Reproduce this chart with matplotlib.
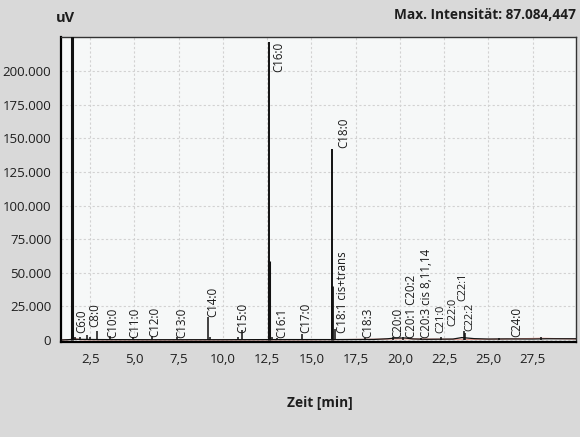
import matplotlib.pyplot as plt
from matplotlib.ticker import FuncFormatter

plt.rcParams["font.family"] = ["Open Sans", "DejaVu Sans"]

# peak retention times [min] and heights [uV]
peak_rt = [1.45, 1.65, 1.93, 2.33, 2.50, 2.90, 3.63, 4.93, 6.00, 7.40,
           9.16, 9.27, 10.85, 11.07, 12.62, 12.60, 12.77, 13.05, 14.45,
           16.17, 16.14, 16.33, 18.0, 19.6, 20.2, 21.2, 22.3, 23.62, 23.70,
           25.6, 27.99]
peak_h = [240000, 2500, 2500, 3500, 2000, 6500, 3000, 2500, 3000, 2000,
          17000, 2000, 2500, 7500, 221800, 59000, 2500, 1500, 4500,
          142500, 40000, 8000, 1500, 2000, 2000, 1500, 2000, 7000, 5000,
          1200, 2000]
peak_lw = [2.2] + [1.1] * 13 + [1.4, 2.2] + [1.1] * 3 + [1.4, 2.0] + [1.1] * 10

# baseline of the trace
base_t = [0.85, 1.7, 3.0, 6.0, 10.0, 13.0, 16.5, 18.5, 19.3, 19.7, 20.3,
          20.7, 21.5, 23.0, 23.5, 24.2, 25.0, 26.0, 27.5, 28.3, 29.95]
base_v = [0, 500, 300, 200, 200, 300, 300, 400, 900, 1400, 1500,
          800, 500, 700, 1800, 1000, 700, 800, 700, 900, 900]

# blank run (red)
red_t = [0.85, 1.3, 1.6, 2.0, 5.0, 10.0, 15.0, 19.5, 20.5, 24.0, 26.0, 28.0, 29.95]
red_v = [0, 200, 1200, 100, 0, 0, 100, 700, 800, 400, 700, 1300, 700]

# peak labels: text, x [min], bottom of text [uV]
lab_text = ["C6:0", "C8:0", "C10:0", "C11:0", "C12:0", "C13:0", "C14:0",
            "C15:0", "C16:0", "C16:1", "C17:0", "C18:0", "C18:1 cis+trans",
            "C18:3", "C20:0", "C20:1 C20:2", "C20:3 cis 8,11,14", "C21:0",
            "C22:0", "C22:1", "C22:2", "C24:0"]
lab_x = [2.05, 2.73, 3.80, 5.04, 6.17, 7.70, 9.45, 11.14, 13.17, 13.34,
         14.69, 16.83, 16.75, 18.19, 19.88, 20.67, 21.52, 22.32, 22.98,
         23.56, 23.98, 26.60]
lab_y = [5200, 9700, 1500, 1500, 2500, 1500, 17100, 5200, 199300, 1500,
         5200, 142700, 5200, 1500, 1500, 1500, 1500, 5000, 10400,
         29000, 6500, 2500]

fig = plt.figure(figsize=(5.8, 4.37), dpi=100, facecolor="#d9d9d9")
ax = fig.add_axes([61 / 580, 1 - 342 / 437, 515 / 580, 305 / 437])
ax.set_facecolor("#f6f8f8")

ax.plot(red_t, red_v, color="#e07060", lw=0.8, alpha=0.7, zorder=2)
ax.plot(base_t, base_v, color="#111111", lw=0.9, zorder=3)
for t, h, w in zip(peak_rt, peak_h, peak_lw):
    ax.vlines(t, 0, h, color="#111111", lw=w, zorder=3)

for s, x, y in zip(lab_text, lab_x, lab_y):
    fs = 7.8 if s in ("C21:0", "C22:0", "C22:1", "C22:2") else 8.3
    ax.text(x, y, s, rotation=90, ha="center", va="bottom", fontsize=fs,
            color="#1a1a1a", zorder=4)

ax.set_xlim(0.85, 29.95)
ax.set_ylim(-1500, 225500)
ax.xaxis.set_major_formatter(FuncFormatter(lambda v, p: f"{v:.1f}".replace(".", ",")))
ax.yaxis.set_major_formatter(FuncFormatter(lambda v, p: f"{v:,.0f}".replace(",", ".")))
ax.set_xticks([2.5 * i for i in range(1, 12)])
ax.set_yticks([25000 * i for i in range(9)])
ax.tick_params(length=0, labelsize=9.5, colors="#1e1e1e")
ax.tick_params(axis="x", pad=8)
ax.tick_params(axis="y", pad=7)
ax.grid(True, color="#d2d2d2", lw=0.8, ls=(0, (2, 2)))
ax.set_axisbelow(True)

for side in ["left", "bottom"]:
    ax.spines[side].set_color("#000000")
    ax.spines[side].set_linewidth(1.6)
for side in ["top", "right"]:
    ax.spines[side].set_color("#333333")
    ax.spines[side].set_linewidth(1.0)

fig.text(65 / 580, 1 - 18 / 437, "uV", ha="center", va="center",
         fontsize=10.5, fontweight="bold", color="#1e1e1e")
fig.text(576 / 580, 1 - 15 / 437, "Max. Intensität: 87.084,447", ha="right",
         va="center", fontsize=9.8, fontweight="bold", color="#1e1e1e")
fig.text(320 / 580, 1 - 403 / 437, "Zeit [min]", ha="center", va="center",
         fontsize=9.8, fontweight="bold", color="#1e1e1e")

fig.savefig("out.png", dpi=100, facecolor=fig.get_facecolor())
